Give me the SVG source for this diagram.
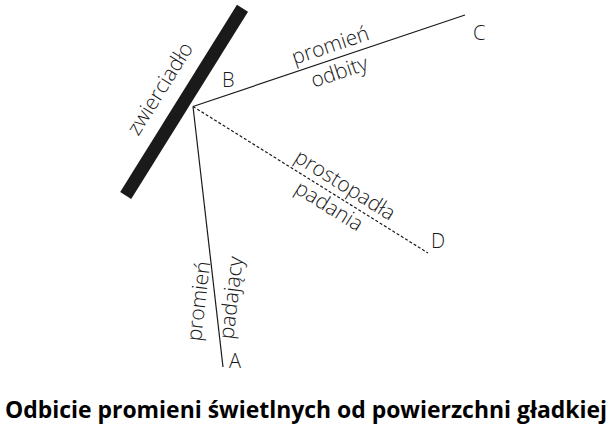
<svg xmlns="http://www.w3.org/2000/svg" width="610" height="430" viewBox="0 0 610 430">
<style>
.lbl{font-family:"Open Sans","Liberation Sans",sans-serif;font-size:21px;font-weight:350;fill:#1a1a1a}
.pt{font-family:"Open Sans","Liberation Sans",sans-serif;font-size:20px;font-weight:350;fill:#1a1a1a}
.ray{stroke:#1a1a1a;stroke-width:1.2;fill:none}
.cap{font-family:"Open Sans","Liberation Sans",sans-serif;font-size:22.5px;font-weight:bold;fill:#000}
</style>
<rect width="610" height="430" fill="#fff"/>
<g id="connectors">
<line class="ray" x1="193" y1="106.5" x2="465" y2="15"/>
<line class="ray" x1="193" y1="106.5" x2="223" y2="367"/>
<line class="ray" x1="193" y1="106.5" x2="428" y2="253" stroke-dasharray="3,2" stroke-width="1"/>
</g>
<g id="mirror">
<line x1="242.5" y1="8.3" x2="125.7" y2="195.5" stroke="#1a1a1a" stroke-width="13"/>
<text class="lbl" x="166" y="92.4" text-anchor="middle" transform="rotate(-58 166 92.4)">zwierciadło</text>
</g>
<g id="B"><text class="pt" x="222" y="86.7">B</text></g>
<g id="C"><text class="pt" x="473" y="40">C</text></g>
<g id="D"><text class="pt" x="431" y="248.3">D</text></g>
<g id="A"><text class="pt" x="229" y="368">A</text></g>
<g id="reflected-label">
<text class="lbl" x="332.6" y="52" text-anchor="middle" transform="rotate(-18.5 332.6 52)">promień</text>
<text class="lbl" x="341.5" y="78.5" text-anchor="middle" transform="rotate(-18.5 341.5 78.5)">odbity</text>
</g>
<g id="normal-label">
<text class="lbl" x="341.4" y="191" text-anchor="middle" transform="rotate(32 341.4 191)">prostopadła</text>
<text class="lbl" x="325.4" y="212" text-anchor="middle" transform="rotate(32 325.4 212)">padania</text>
</g>
<g id="incident-label">
<text class="lbl" x="205.5" y="302" text-anchor="middle" transform="rotate(-83.4 205.5 302)">promień</text>
<text class="lbl" x="238" y="298.6" text-anchor="middle" transform="rotate(-83.4 238 298.6)">padający</text>
</g>
<g id="caption"><text class="cap" x="5" y="418" textLength="602" lengthAdjust="spacingAndGlyphs">Odbicie promieni świetlnych od powierzchni gładkiej</text></g>
</svg>
